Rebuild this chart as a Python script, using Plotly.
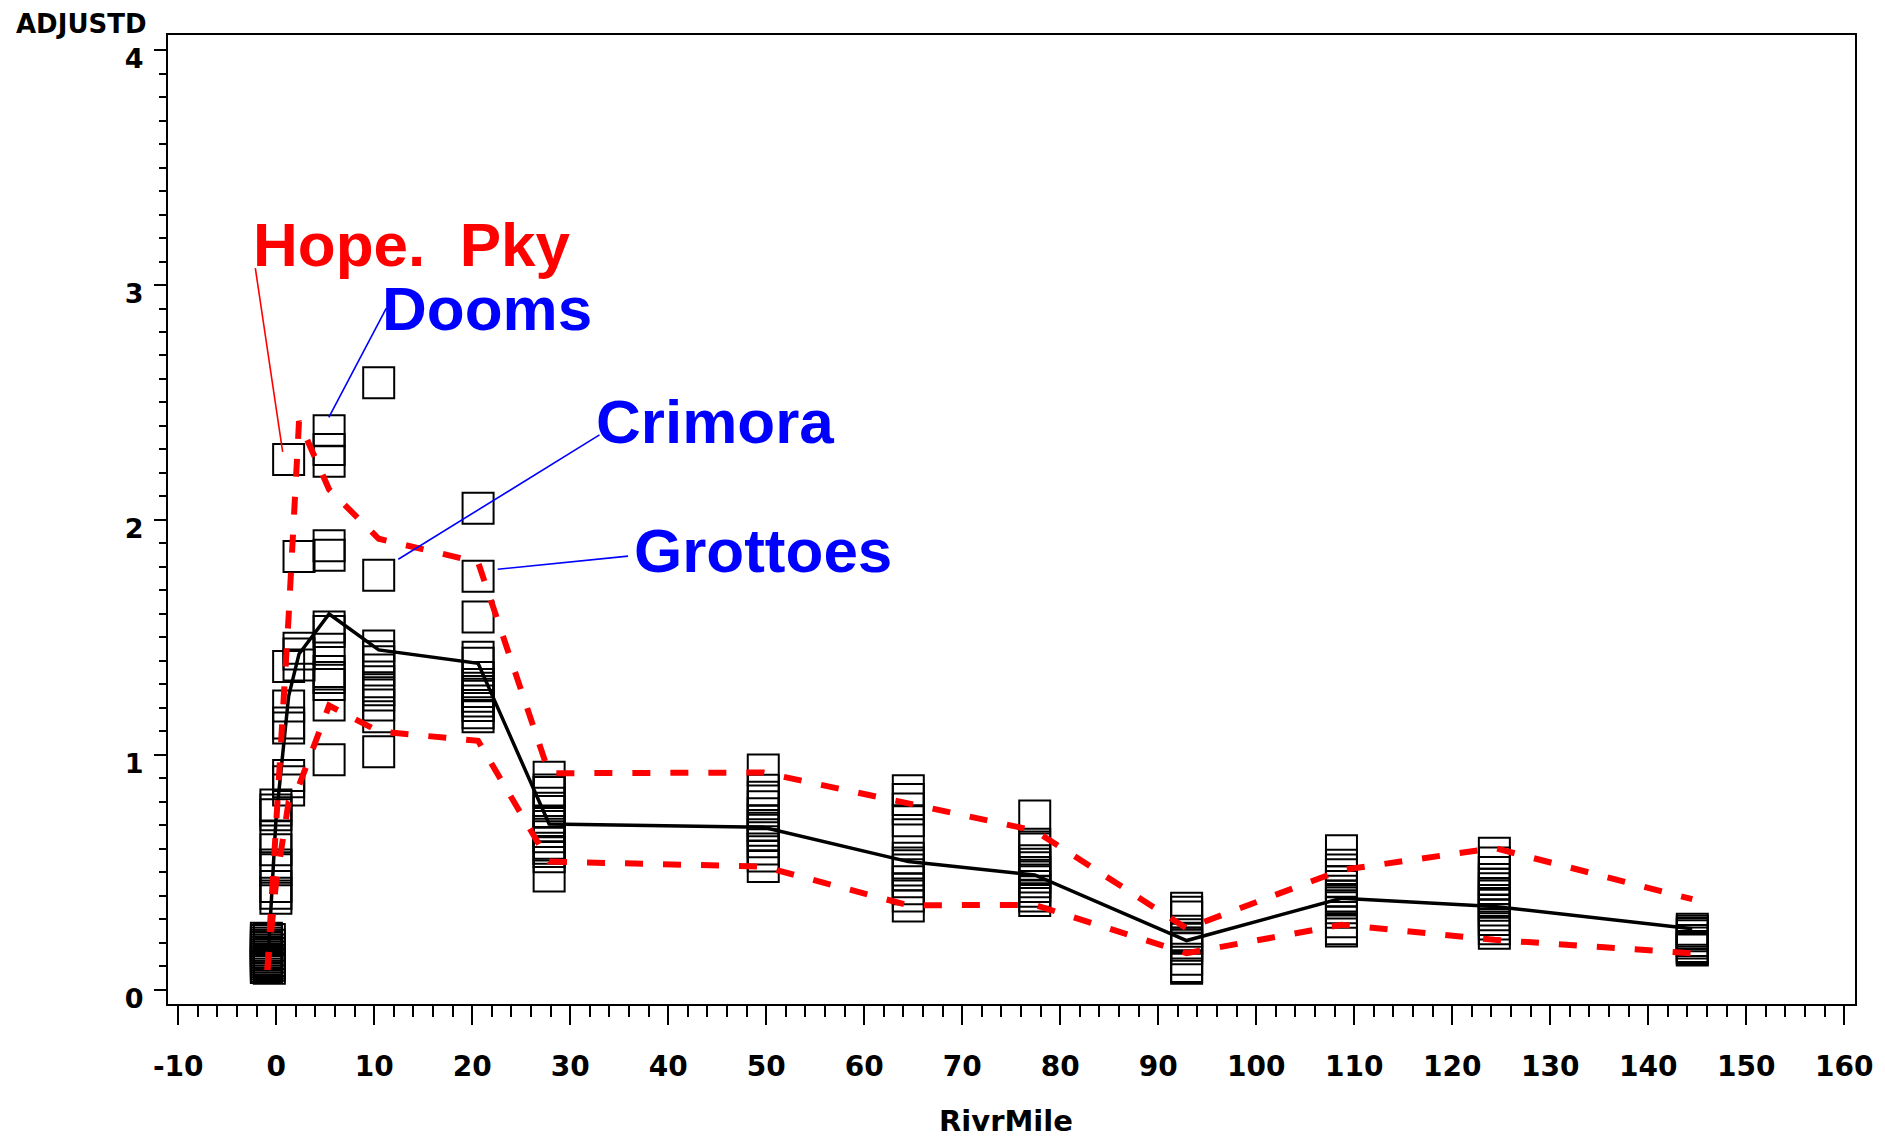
import plotly.graph_objects as go

# River-mile position of each sampling site
site_miles = [-1.0, -0.7, -0.03, 1.27, 2.33, 5.4, 10.46, 20.6, 27.85,
              49.7, 64.5, 77.4, 92.9, 108.7, 124.3, 144.5]

# ADJUSTD observations at each site
site_values = [
    [0.22, 0.21, 0.20, 0.19, 0.18, 0.17, 0.16, 0.15, 0.14, 0.13, 0.12, 0.11, 0.10, 0.095],
    [0.215, 0.19, 0.17, 0.155, 0.14, 0.125, 0.115, 0.105, 0.092],
    [0.787, 0.766, 0.745, 0.652, 0.596, 0.532, 0.511, 0.44, 0.411, 0.39],
    [2.257, 1.376, 1.208, 1.136, 1.115, 0.912, 0.886, 0.851],
    [1.844, 1.454, 1.43, 1.383],
    [2.38, 2.30, 2.25, 1.89, 1.85, 1.545, 1.525, 1.45, 1.355, 1.33, 1.30, 1.213, 0.98],
    [2.584, 1.765, 1.464, 1.418, 1.397, 1.362, 1.312, 1.277, 1.255, 1.213, 1.163, 1.014],
    [2.05, 1.76, 1.587, 1.416, 1.39, 1.33, 1.30, 1.27, 1.25, 1.23, 1.21, 1.18, 1.163],
    [0.905, 0.851, 0.84, 0.794, 0.759, 0.716, 0.695, 0.674, 0.652, 0.624, 0.603, 0.589, 0.567, 0.485],
    [0.936, 0.85, 0.82, 0.78, 0.75, 0.72, 0.70, 0.68, 0.66, 0.63, 0.60, 0.57, 0.525],
    [0.848, 0.81, 0.77, 0.72, 0.66, 0.56, 0.54, 0.51, 0.49, 0.46, 0.43, 0.40, 0.357],
    [0.74, 0.62, 0.60, 0.55, 0.535, 0.52, 0.50, 0.48, 0.46, 0.44, 0.42, 0.40, 0.38],
    [0.348, 0.33, 0.31, 0.25, 0.235, 0.22, 0.20, 0.19, 0.175, 0.13, 0.10, 0.092],
    [0.592, 0.53, 0.51, 0.49, 0.46, 0.44, 0.42, 0.40, 0.385, 0.37, 0.35, 0.33, 0.29, 0.26, 0.251],
    [0.582, 0.54, 0.50, 0.47, 0.45, 0.43, 0.41, 0.40, 0.38, 0.36, 0.34, 0.32, 0.30, 0.28, 0.26, 0.241],
    [0.258, 0.25, 0.24, 0.23, 0.21, 0.20, 0.185, 0.18, 0.175, 0.17],
]

# Site mean and upper / lower band joined along the river
line_miles = [-0.9, -0.03, 1.27, 2.33, 5.4, 10.46, 20.6, 27.85, 49.7,
              64.5, 77.4, 92.9, 108.7, 124.3, 144.5]
mean_line = [0.08, 0.72, 1.25, 1.43, 1.60, 1.447, 1.39, 0.706, 0.692,
             0.546, 0.489, 0.21, 0.39, 0.355, 0.26]
upper_line = [0.085, 0.65, 1.59, 2.42, 2.13, 1.92, 1.82, 0.922, 0.925,
              0.794, 0.678, 0.262, 0.51, 0.604, 0.386]
lower_line = [0.085, 0.45, 0.80, 0.87, 1.21, 1.10, 1.06, 0.546, 0.525,
              0.36, 0.362, 0.156, 0.277, 0.213, 0.156]

x_ticks = list(range(-10, 161, 10))
y_ticks = [0, 1, 2, 3, 4]

# Named sites: label text, colour, label anchor, leader line start and end
site_labels = [
    ("Hope.\u00a0\u00a0Pky", "#FF0000", (-2.53, 3.174), (-2.13, 3.072), (0.66, 2.29)),
    ("Dooms", "#0000FF", (10.58, 2.902), (11.24, 2.902), (5.37, 2.437)),
    ("Crimora", "#0000FF", (32.4, 2.419), (32.99, 2.362), (12.46, 1.833)),
    ("Grottoes", "#0000FF", (36.35, 1.872), (35.9, 1.846), (22.6, 1.79)),
]

xs, ys = [], []
for mile, vals in zip(site_miles, site_values):
    xs.extend([mile] * len(vals))
    ys.extend(vals)

fig = go.Figure()

fig.add_trace(go.Scatter(
    x=xs, y=ys, mode="markers",
    marker=dict(symbol="square-open", size=31, color="black",
                line=dict(width=2, color="black")),
    hoverinfo="skip", showlegend=False,
))

fig.add_trace(go.Scatter(
    x=line_miles, y=mean_line, mode="lines",
    line=dict(color="black", width=3.5),
    hoverinfo="skip", showlegend=False,
))

for band in (upper_line, lower_line):
    fig.add_trace(go.Scatter(
        x=line_miles, y=band, mode="lines",
        line=dict(color="#FF0000", width=6, dash="18px,20px"),
        hoverinfo="skip", showlegend=False,
    ))

for text, color, (tx, ty), (x0, y0), (x1, y1) in site_labels:
    fig.add_shape(type="line", xref="x", yref="y", x0=x0, y0=y0, x1=x1, y1=y1,
                  line=dict(color=color, width=1.6))
    fig.add_annotation(x=tx, y=ty, xref="x", yref="y", text=text,
                       showarrow=False, xanchor="left", yanchor="middle",
                       font=dict(family="Liberation Sans, Arial, sans-serif",
                                 size=62, color=color, weight="bold"))

fig.add_annotation(x=-0.091, y=1.0113, xref="paper", yref="paper", text="ADJUSTD",
                   showarrow=False, xanchor="left", yanchor="middle",
                   font=dict(family="DejaVu Sans, sans-serif", size=26,
                             color="black", weight="bold"))
fig.add_annotation(x=0.497, y=-0.121, xref="paper", yref="paper", text="RivrMile",
                   showarrow=False, xanchor="center", yanchor="middle",
                   font=dict(family="DejaVu Sans, sans-serif", size=29,
                             color="black", weight="bold"))

x_tick_font = dict(family="DejaVu Sans, sans-serif", size=28, color="black", weight="bold")
y_tick_font = dict(family="DejaVu Sans, sans-serif", size=27, color="black", weight="bold")

fig.update_xaxes(
    range=[-11.04, 161.1], tickmode="array", tickvals=x_ticks,
    ticktext=[str(v) for v in x_ticks], tickfont=x_tick_font,
    ticks="outside", ticklen=19, tickwidth=2, tickcolor="black",
    minor=dict(ticks="outside", dtick=2, tick0=0, ticklen=11, tickwidth=2, tickcolor="black"),
    showline=True, linewidth=2, linecolor="black", mirror=True,
    showgrid=False, zeroline=False, ticklabelstandoff=17,
    ticklabeloverflow="allow",
)
fig.update_yaxes(
    range=[-0.06, 4.064], tickmode="array", tickvals=y_ticks,
    ticktext=[str(v) for v in y_ticks], tickfont=y_tick_font,
    ticks="outside", ticklen=12, tickwidth=2, tickcolor="black",
    minor=dict(ticks="outside", dtick=0.1, tick0=0, ticklen=7, tickwidth=2, tickcolor="black"),
    showline=True, linewidth=2, linecolor="black", mirror=True,
    showgrid=False, zeroline=False, ticklabelstandoff=5, ticklabelshift=9,
)

fig.update_layout(
    width=1885, height=1141,
    margin=dict(l=168, r=17, t=35, b=137, pad=0),
    plot_bgcolor="white", paper_bgcolor="white",
    showlegend=False,
)

fig.write_html("out.html")
